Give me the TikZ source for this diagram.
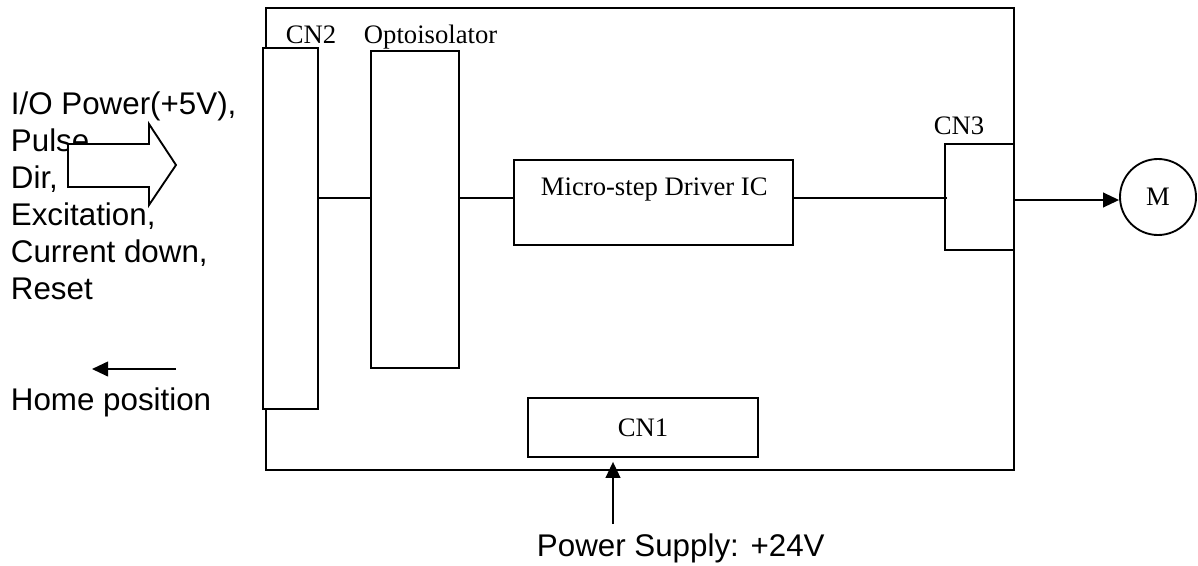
\documentclass[tikz,border=0pt]{standalone}
\usepackage{fontspec}
\setmainfont{Liberation Serif}
\newfontfamily\sansf{Liberation Sans}
\usetikzlibrary{arrows.meta}
\begin{document}
\begin{tikzpicture}[x=0.75pt,y=-0.75pt,
  line width=1.4pt,
  box/.style={draw,fill=white,rectangle,inner sep=0pt,anchor=north west},
  serif/.style={font=\fontsize{20}{23}\selectfont,inner sep=0pt,anchor=base west},
  sanslbl/.style={font=\sansf\fontsize{23.5}{28}\selectfont,inner sep=0pt,anchor=base west},
  >={Triangle[length=12pt,width=11pt]}]
\useasboundingbox (0,0) rectangle (1198,565);
% boxes
\node[box,minimum width=561pt,minimum height=346.5pt] (main) at (265,7) {};
\node[box,minimum width=41.25pt,minimum height=270.75pt] (cn2) at (262,47) {};
\node[box,minimum width=66pt,minimum height=237.75pt] (opto) at (370,50) {};
\node[box,minimum width=209.25pt,minimum height=63.75pt] (micro) at (513,159) {};
\node[box,minimum width=51.75pt,minimum height=79.5pt] (cn3) at (944,143) {};
\node[box,minimum width=172.5pt,minimum height=44.25pt,font=\fontsize{20}{23}\selectfont] (cn1) at (527,397) {CN1};
\node[draw,circle,inner sep=0pt,minimum size=57pt,font=\fontsize{20}{23}\selectfont] (mot) at (1158,197) {M};
% labels
\node[serif] (cn2lbl) at (285,43) {CN2};
\node[serif] (optolbl) at (363,43) {Optoisolator};
\node[serif] (microlbl) at (540,195) {Micro-step Driver IC};
\node[serif] (cn3lbl) at (933,134) {CN3};
\node[sanslbl] (l1) at (10,114) {I/O Power(+5V),};
\node[sanslbl] (l2) at (10,151) {Pulse,};
\node[sanslbl] (l3) at (10,188) {Dir,};
\node[sanslbl] (l4) at (10,225) {Excitation,};
\node[sanslbl] (l5) at (10,262) {Current down,};
\node[sanslbl] (l6) at (10,299) {Reset};
\node[sanslbl] (home) at (10,410) {Home position};
\node[sanslbl] (pwrlbl) at (536,556) {Power Supply: +24V};
% hollow input arrow
\draw[fill=white] (68,144) -- (149,144) -- (149,124) -- (176,165) -- (149,205) -- (149,187) -- (68,187) -- cycle;
% connectors
\coordinate (sig) at (0,198);
\draw (cn2.east |- sig) -- (opto.west |- sig);
\draw (opto.east |- sig) -- (micro.west |- sig);
\draw (micro.east |- sig) -- ([xshift=2pt]cn3.west |- sig);
\coordinate (motl) at (0,200);
\draw[->] (cn3.east |- motl) -- (mot.west |- motl);
\coordinate (pwr) at (613,524);
\draw[->] (pwr) -- ([yshift=-3pt]cn1.south -| pwr);
\coordinate (hs) at (176,369);
\coordinate (he) at (92,369);
\draw[->] (hs) -- (he);
\end{tikzpicture}
\end{document}
